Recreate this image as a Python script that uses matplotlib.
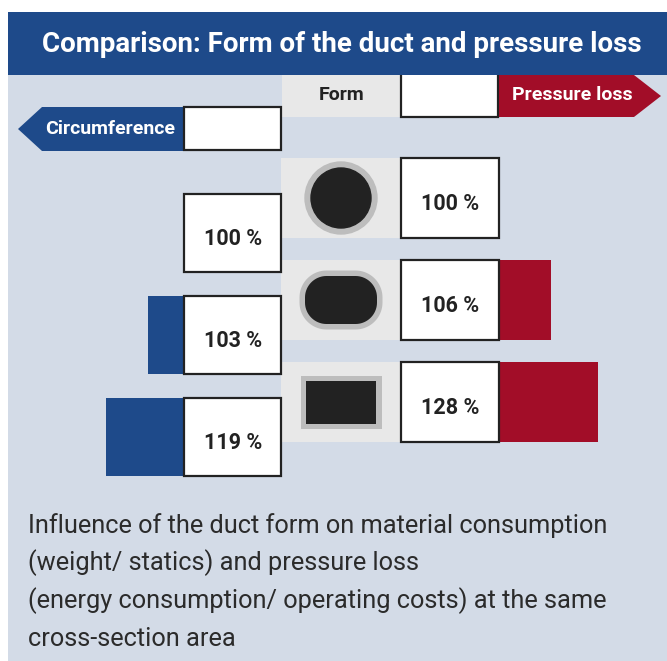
import numpy as np
import matplotlib
matplotlib.use("Agg")
import matplotlib.pyplot as plt
from matplotlib.patches import Rectangle, Polygon, Circle

title = "Comparison: Form of the duct and pressure loss"
forms = ["round", "oval", "rectangular"]
circumference = [100, 103, 119]
pressure_loss = [100, 106, 128]
caption = [
    "Influence of the duct form on material consumption",
    "(weight/ statics) and pressure loss",
    "(energy consumption/ operating costs) at the same",
    "cross-section area",
]

BLUE = "#1e4a8a"
RED = "#a20d28"
PANEL = "#d3dbe7"
LIGHT = "#e8e8e8"
DARK = "#222222"
RING = "#bdbdbd"
FONT = ["Roboto", "DejaVu Sans"]


def bar_len(v, k):
    # the infographic's bars grow sub-linearly with the excess over 100 %
    return k * max(v - 100, 0) ** 0.42


def rounded_rect(cx, cy, w, h, r, **kw):
    # rectangle with true circular corners
    pts = []
    corners = [(cx + w / 2 - r, cy - h / 2 + r, -90),
               (cx + w / 2 - r, cy + h / 2 - r, 0),
               (cx - w / 2 + r, cy + h / 2 - r, 90),
               (cx - w / 2 + r, cy - h / 2 + r, 180)]
    for x0, y0, a0 in corners:
        t = np.radians(np.linspace(a0, a0 + 90, 20))
        pts += list(zip(x0 + r * np.cos(t), y0 + r * np.sin(t)))
    return Polygon(pts, closed=True, **kw)


def draw_form(ax, name, cx, cy):
    if name == "round":
        ax.add_patch(Circle((cx, cy), 36, color=RING, zorder=3))
        ax.add_patch(Circle((cx, cy), 30, color=DARK, zorder=4))
    elif name == "oval":
        ax.add_patch(rounded_rect(cx, cy, 83, 59, 27, fc=RING, ec="none", zorder=3))
        ax.add_patch(rounded_rect(cx, cy, 72, 48, 21.5, fc=DARK, ec="none", zorder=4))
    else:
        ax.add_patch(Rectangle((cx - 40.5, cy - 26.5), 81, 53, fc=RING, ec="none", zorder=3))
        ax.add_patch(Rectangle((cx - 35, cy - 21.5), 70, 43, fc=DARK, ec="none", zorder=4))


def generate_plot():
    fig = plt.figure(figsize=(6.67, 6.61), dpi=100)
    ax = fig.add_axes([0, 0, 1, 1])
    ax.set_xlim(0, 667)
    ax.set_ylim(661, 0)
    ax.axis("off")

    # panel and title bar
    ax.add_patch(Rectangle((8, 75), 659, 586, fc=PANEL, ec="none", zorder=0))
    ax.add_patch(Rectangle((8, 12), 659, 63, fc=BLUE, ec="none", zorder=10))
    ax.text(342, 52, title, color="white", fontsize=20, fontweight="bold",
            family=FONT, ha="center", va="baseline", zorder=11)

    # header row
    ax.add_patch(Rectangle((282, 70), 119, 47, fc=LIGHT, ec="none", zorder=1))
    ax.text(342, 100, "Form", color=DARK, fontsize=14, fontweight="bold",
            family=FONT, ha="center", va="baseline", zorder=2)
    ax.add_patch(Rectangle((401, 65), 97, 52, fc="white", ec=DARK, lw=1.6, zorder=2))
    ax.add_patch(Polygon([(499, 75), (634, 75), (661, 96), (634, 117), (499, 117)],
                         closed=True, fc=RED, ec="none", zorder=2))
    ax.text(572, 100, "Pressure loss", color="white", fontsize=14, fontweight="bold",
            family=FONT, ha="center", va="baseline", zorder=3)

    ax.add_patch(Polygon([(184, 107), (42, 107), (18, 129), (42, 151), (184, 151)],
                         closed=True, fc=BLUE, ec="none", zorder=2))
    ax.add_patch(Rectangle((184, 107), 97, 43, fc="white", ec=DARK, lw=1.6, zorder=3))
    ax.text(110, 134, "Circumference", color="white", fontsize=14, fontweight="bold",
            family=FONT, ha="center", va="baseline", zorder=3)

    # rows
    for i, (form, circ, press) in enumerate(zip(forms, circumference, pressure_loss)):
        top = 158 + i * 102
        ax.add_patch(Rectangle((281, top), 120, 80, fc=LIGHT, ec="none", zorder=1))
        draw_form(ax, form, 341, top + 40)

        # pressure loss (right)
        ax.add_patch(Rectangle((499, top), bar_len(press, 24.5), 80, fc=RED, ec="none", zorder=1))
        ax.add_patch(Rectangle((401, top), 98, 80, fc="white", ec=DARK, lw=1.6, zorder=2))
        ax.text(450, top + 52, f"{press} %", color=DARK, fontsize=15.5, fontweight="bold",
                family=FONT, ha="center", va="baseline", zorder=3)

        # circumference (left)
        ltop = top + 36
        w = bar_len(circ, 22.7)
        ax.add_patch(Rectangle((184 - w, ltop), w, 78, fc=BLUE, ec="none", zorder=1))
        ax.add_patch(Rectangle((184, ltop), 97, 78, fc="white", ec=DARK, lw=1.6, zorder=2))
        ax.text(233, ltop + 51, f"{circ} %", color=DARK, fontsize=15.5, fontweight="bold",
                family=FONT, ha="center", va="baseline", zorder=3)

    for j, line in enumerate(caption):
        ax.text(28, 533 + j * 37.5, line, color="#2b2b2b", fontsize=18.3,
                family=FONT, ha="left", va="baseline", zorder=3)

    fig.savefig("out.png", dpi=100)


if __name__ == "__main__":
    generate_plot()
